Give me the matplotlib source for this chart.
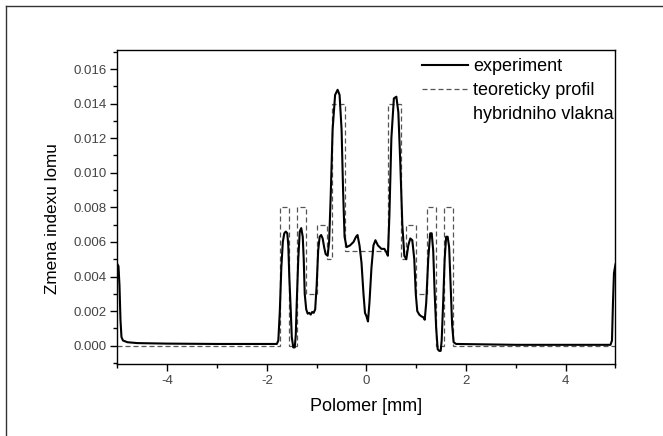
import matplotlib
matplotlib.use("Agg")
import matplotlib.pyplot as plt
import numpy as np
from matplotlib.lines import Line2D
from matplotlib.ticker import MultipleLocator, FormatStrFormatter

plt.rcParams["font.family"] = ["Liberation Sans", "DejaVu Sans"]
plt.rcParams["axes.unicode_minus"] = False

# experiment: radius [mm] vs refractive index change (x1e-3)
exp_x = [-5.00, -4.98, -4.96, -4.94, -4.92, -4.89, -4.80, -4.60, -4.00, -3.00,
         -2.00, -1.80, -1.77, -1.74, -1.71, -1.68, -1.65, -1.62, -1.59, -1.57,
         -1.55, -1.52, -1.50, -1.47, -1.44, -1.42, -1.40, -1.37, -1.34, -1.31,
         -1.28, -1.26, -1.24, -1.21, -1.18, -1.15, -1.12, -1.09, -1.06, -1.03,
         -1.00, -0.97, -0.94, -0.91, -0.88, -0.85, -0.82, -0.78, -0.75, -0.72,
         -0.68, -0.63, -0.58, -0.54, -0.50, -0.47, -0.44, -0.40, -0.33, -0.26,
         -0.21, -0.18, -0.14, -0.10, -0.06, -0.03, 0.00, 0.03, 0.06, 0.10,
         0.14, 0.18, 0.23, 0.30, 0.36, 0.40, 0.43, 0.46, 0.50, 0.55,
         0.60, 0.64, 0.68, 0.72, 0.76, 0.80, 0.84, 0.88, 0.92, 0.96,
         0.99, 1.02, 1.06, 1.10, 1.14, 1.17, 1.20, 1.24, 1.28, 1.31,
         1.34, 1.37, 1.40, 1.43, 1.46, 1.49, 1.51, 1.54, 1.57, 1.60,
         1.63, 1.66, 1.69, 1.72, 1.75, 1.80, 3.00, 4.00, 4.90, 4.93,
         4.95, 4.97, 5.00]
exp_y = [4.7, 4.6, 3.5, 1.5, 0.5, 0.3, 0.2, 0.15, 0.12, 0.1,
         0.1, 0.1, 0.3, 2.0, 4.5, 6.0, 6.5, 6.6, 6.5, 5.8,
         4.0, 2.0, 0.5, -0.1, -0.1, 0.6, 2.5, 5.0, 6.6, 6.8,
         6.3, 5.0, 3.0, 2.1, 1.85, 1.9, 1.8, 1.95, 1.9, 2.1,
         3.5, 5.5, 6.3, 6.4, 6.2, 5.7, 5.3, 5.2, 6.0, 8.5,
         12.5, 14.5, 14.8, 14.5, 12.5, 9.0, 6.3, 5.7, 5.8, 6.0,
         6.3, 6.4, 5.8, 4.8, 3.0, 1.9, 1.7, 1.4, 2.5, 4.5,
         5.8, 6.1, 5.8, 5.6, 5.6, 5.4, 5.2, 7.5, 12.0, 14.3,
         14.4, 13.5, 10.5, 7.0, 5.2, 5.0, 5.8, 6.2, 6.1, 5.0,
         3.0, 2.0, 1.8, 1.7, 1.65, 1.5, 2.5, 5.0, 6.5, 6.5,
         5.5, 3.0, 1.0, -0.2, -0.3, -0.3, 0.3, 2.5, 5.0, 6.3,
         6.3, 5.7, 3.5, 1.2, 0.2, 0.1, 0.05, 0.05, 0.05, 0.3,
         2.5, 4.2, 4.7]

# theoretical step profile of the hybrid fibre (x1e-3)
theory_edges = [-5.0, -1.74, -1.55, -1.39, -1.22, -1.00, -0.80, -0.70, -0.43,
                0.43, 0.70, 0.80, 1.00, 1.22, 1.39, 1.55, 1.73, 5.0]
theory_levels = [0, 8, 0, 8, 3, 7, 5, 14, 5.5, 14, 5, 7, 3, 8, 0, 8, 0]

fig = plt.figure(figsize=(6.63, 4.36), dpi=100)
ax = fig.add_axes([0.1772, 0.1651, 0.7511, 0.7202])

ax.stairs(np.array(theory_levels) * 1e-3, theory_edges, baseline=None,
          color="#555555", lw=0.9, linestyle=(0, (4, 2.4)))
ax.plot(exp_x, np.array(exp_y) * 1e-3, color="black", lw=1.5)

ax.set_xlim(-5, 5)
ax.set_ylim(-0.00106, 0.0171)
ax.xaxis.set_major_locator(MultipleLocator(2))
ax.xaxis.set_minor_locator(MultipleLocator(1))
ax.yaxis.set_major_locator(MultipleLocator(0.002))
ax.yaxis.set_minor_locator(MultipleLocator(0.001))
ax.yaxis.set_major_formatter(FormatStrFormatter("%.3f"))
ax.xaxis.set_major_formatter(FormatStrFormatter("%d"))
ax.tick_params(which="both", direction="out", top=False, right=False,
               width=1.0, labelsize=9.5, labelcolor="#444444")
ax.tick_params(which="major", length=5, pad=3)
ax.tick_params(which="minor", length=3)
for s in ax.spines.values():
    s.set_linewidth(1.0)

ax.set_xlabel("Polomer [mm]", fontsize=13, labelpad=8)
ax.set_ylabel("Zmena indexu lomu", fontsize=12.3)
ax.yaxis.set_label_coords(-0.1155, 0.4618)

h_exp = Line2D([], [], color="black", lw=1.5)
h_th = Line2D([], [], color="#555555", lw=0.9, linestyle=(0, (4, 2.4)))
h_none = Line2D([], [], color="none")
ax.legend([h_exp, h_th, h_none],
          ["experiment", "teoreticky profil", "hybridniho vlakna"],
          loc="upper left", bbox_to_anchor=(0.611, 0.9745), frameon=False,
          fontsize=13, handlelength=2.58, handletextpad=0.25,
          labelspacing=0.38, borderpad=0, borderaxespad=0)

# thin frame around the picture (left and top edges visible)
fig.add_artist(Line2D([5.5 / 663, 5.5 / 663], [0, 1 - 6 / 436],
                      transform=fig.transFigure, color="#333333", lw=1.0))
fig.add_artist(Line2D([5.5 / 663, 1], [1 - 6 / 436, 1 - 6 / 436],
                      transform=fig.transFigure, color="#333333", lw=1.0))

fig.savefig("out.png", dpi=100)
